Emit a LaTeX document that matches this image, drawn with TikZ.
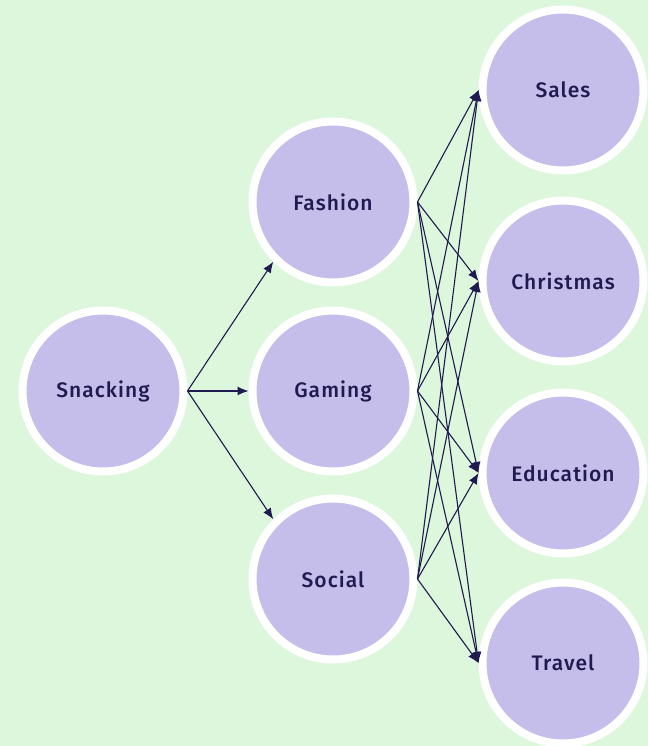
\documentclass[tikz,border=0pt]{standalone}
\usepackage{fontspec}
\setmainfont{Fira Sans Medium}[LetterSpace=5]
\usetikzlibrary{arrows.meta}
\definecolor{bgmint}{HTML}{DDF7DD}
\definecolor{bubble}{HTML}{C5BEEA}
\definecolor{ink}{HTML}{1F1A4F}
\begin{document}
\begin{tikzpicture}[>={Latex[length=11bp,width=9bp]},line join=bevel,
  topic/.style={circle,draw=white,line width=8bp,fill=bubble,minimum size=161bp,
    inner sep=0pt,text=ink,font=\fontsize{21bp}{25bp}\selectfont},
  link/.style={ink,line width=1.1bp,->}]
%%
\fill [bgmint] (0bp,0bp) rectangle (648bp,746bp);
\useasboundingbox (0bp,0bp) rectangle (648bp,746bp);
\node (node_snacking) at (103bp,355bp) [topic] {Snacking};
  \node (node_fashion) at (333bp,544bp) [topic] {Fashion};
  \node (node_gaming) at (333bp,355bp) [topic] {Gaming};
  \node (node_social) at (333bp,167bp) [topic] {Social};
  \node (node_sales) at (563bp,656bp) [topic] {Sales};
  \node (node_christmas) at (563bp,465bp) [topic] {Christmas};
  \node (node_education) at (563bp,273bp) [topic] {Education};
  \node (node_travel) at (563bp,83bp) [topic] {Travel};
  \draw [link] (node_snacking.east) -- (node_fashion.south west);
  \draw [link] (node_snacking.east) -- (node_gaming.west);
  \draw [link] (node_snacking.east) -- (node_social.north west);
  \foreach \src in {fashion,gaming,social}
    \foreach \dst in {sales,christmas,education,travel}
      \draw [link] (node_\src.east) -- (node_\dst.west);
%
\end{tikzpicture}
\end{document}
